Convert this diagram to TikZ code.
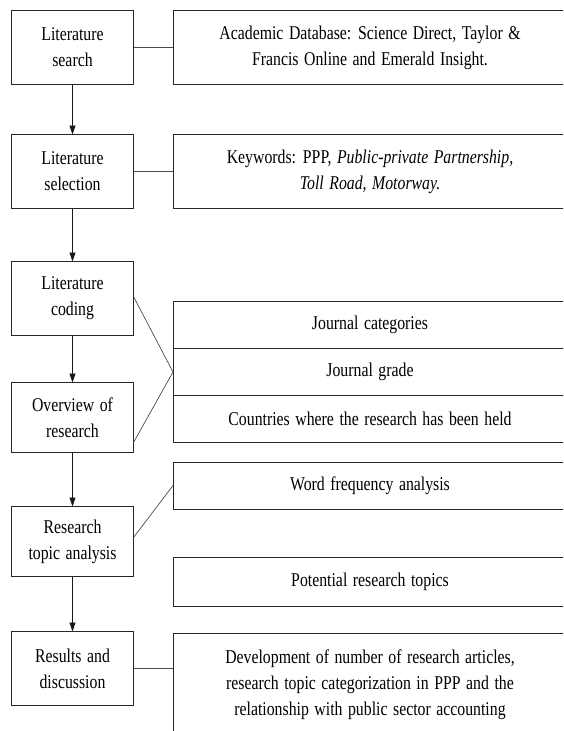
\documentclass[tikz,border=0pt]{standalone}
\usepackage{fontspec}
\setmainfont{Liberation Serif}[FakeStretch=0.81,WordSpace=1.4]
\usetikzlibrary{arrows.meta, positioning}

\begin{document}
\begin{tikzpicture}[x=1pt, y=-1pt, node distance=50pt,
  every node/.style={draw=black!85, line width=0.8pt, align=center, inner sep=2pt,
                     outer sep=0pt, font=\fontsize{19.5}{26}\selectfont},
  stage/.style={minimum width=122pt, minimum height=74pt},
  detail/.style={minimum width=394pt, minimum height=47pt},
  flow/.style={-{Triangle[width=6pt,length=9pt]}, line width=0.8pt, draw=black!90},
  link/.style={line width=0.7pt, draw=black!70}]
\clip (0,0) rectangle (563,731);
\node[stage] (search) at (72.5,47.5) {Literature\\search};
\node[stage] (selection) [below=50pt of search] {Literature\\selection};
\node[stage] (coding) [below=53pt of selection] {Literature\\coding};
\node[stage, minimum height=70pt] (overview) [below=47pt of coding] {Overview of\\research};
\node[stage, minimum height=70pt] (topic) [below=54pt of overview] {Research\\topic analysis};
\node[stage] (results) [below=55pt of topic] {Results and\\discussion};
\node[detail, minimum height=74pt] (database) [right=39.5pt of search] {Academic Database: Science Direct, Taylor \&\\Francis Online and Emerald Insight.};
\node[detail, minimum height=74pt] (keywords) [right=39.5pt of selection] {Keywords: PPP, \textit{Public-private Partnership,}\\\textit{Toll Road, Motorway.}};
\node[detail] (grade) at (370,372) {Journal grade};
\node[detail] (categories) [above=0pt of grade] {Journal categories};
\node[detail] (countries) [below=0pt of grade] {Countries where the research has been held};
\node[detail] (wordfreq) at (370,485.5) {Word frequency analysis};
\node[detail, minimum height=49pt] (potential) at (370,581.5) {Potential research topics};
\node[detail, minimum height=104pt] (development) at (370,685) {Development of number of research articles,\\research topic categorization in PPP and the\\relationship with public sector accounting};
\draw[flow] (search) -- (selection);
\draw[flow] (selection) -- (coding);
\draw[flow] (coding) -- (overview);
\draw[flow] (overview) -- (topic);
\draw[flow] (topic) -- (results);
\draw[link] (search) -- (database);
\draw[link] (selection) -- (keywords);
\draw[link] ([yshift=2pt]coding.east) -- (grade.west) -- ([yshift=-25pt]overview.east);
\draw[link] ([yshift=4pt]topic.east) -- (wordfreq.west);
\draw[link] (results.east) -- (results.east -| development.west);
\end{tikzpicture}
\end{document}
